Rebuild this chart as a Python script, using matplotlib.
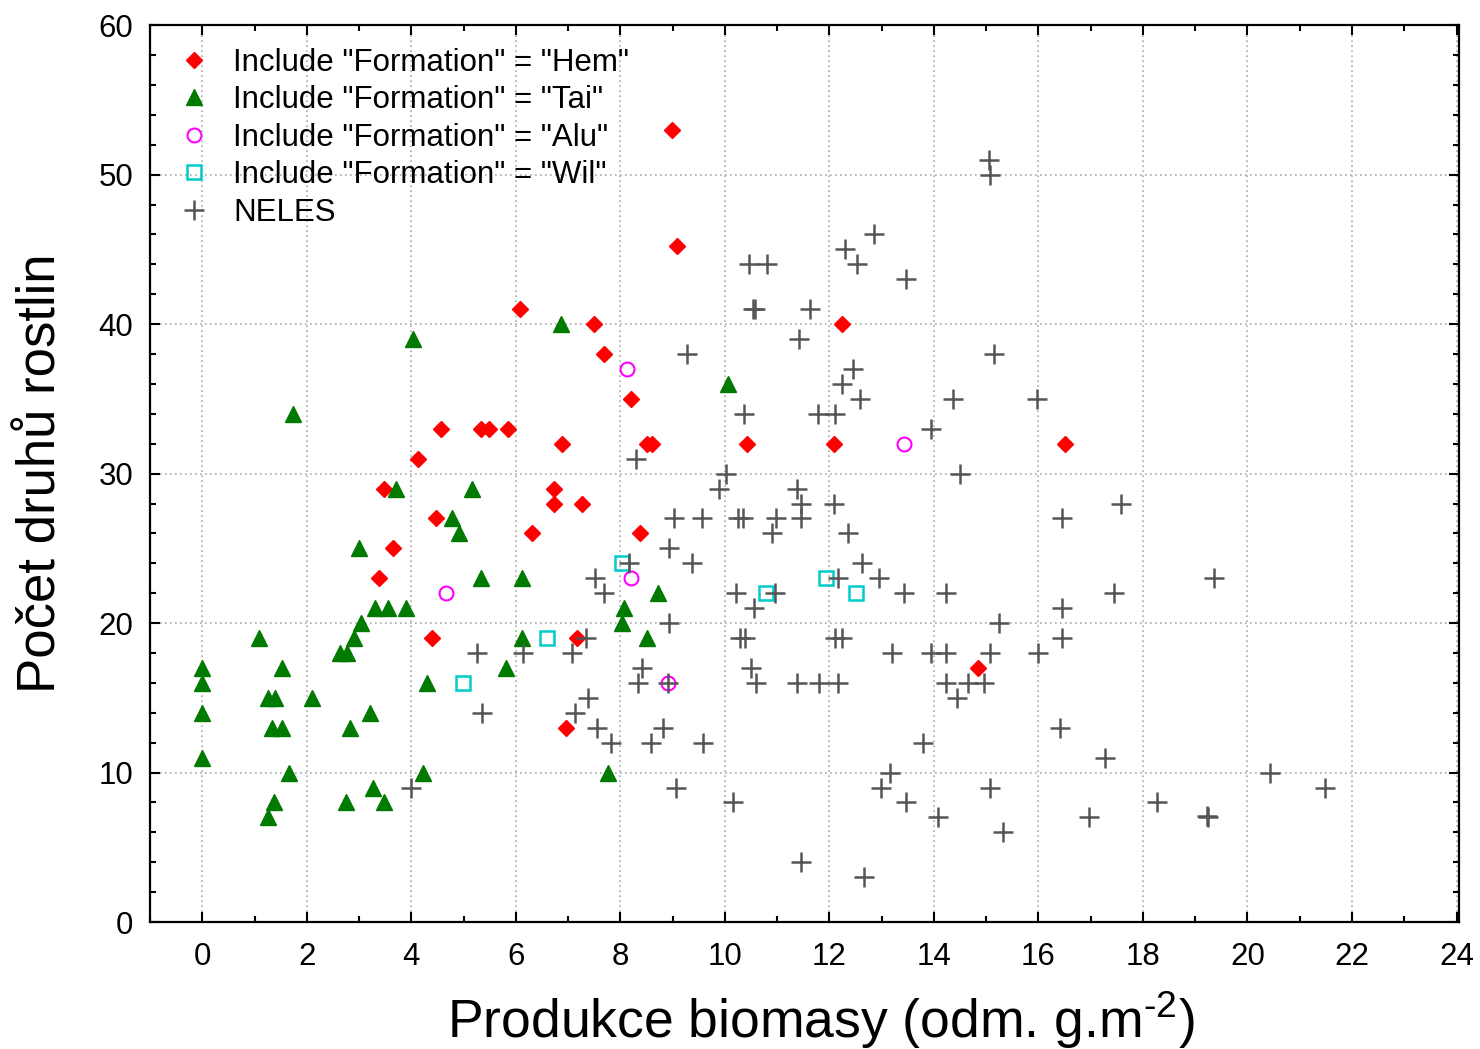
import matplotlib
matplotlib.use('Agg')
import matplotlib.pyplot as plt
from matplotlib.ticker import MultipleLocator

plt.rcParams['font.family'] = ['Liberation Sans', 'DejaVu Sans']
plt.rcParams['mathtext.fontset'] = 'custom'
plt.rcParams['mathtext.rm'] = 'Liberation Sans'

# Formation "Hem"
hem_x = [8.99, 9.09, 6.08, 7.49, 7.69, 8.2, 4.56, 5.34, 5.48, 5.85, 4.12, 6.88, 8.51, 8.61,
         10.43, 12.08, 16.5, 12.25, 3.47, 6.73, 6.73, 7.26, 4.47, 6.31, 8.38, 3.64, 3.39,
         4.39, 7.17, 6.96, 14.85]
hem_y = [53, 45.2, 41, 40, 38, 35, 33, 33, 33, 33, 31, 32, 32, 32,
         32, 32, 32, 40, 29, 29, 28, 28, 27, 26, 26, 25, 23,
         19, 19, 13, 17]

# Formation "Tai"
tai_x = [4.03, 1.74, 3.7, 5.16, 4.77, 4.91, 2.99, 5.33, 6.11, 3.3, 3.55, 3.9, 3.03, 1.09,
         6.11, 2.91, 2.63, 2.76, 0, 1.53, 0, 1.25, 1.4, 2.09, 0, 3.2, 1.34, 1.53, 2.82,
         0, 1.65, 3.26, 1.38, 2.74, 3.47, 1.25, 4.22, 4.29, 5.81, 8.72, 8.07, 8.03, 8.51,
         7.76, 6.86, 10.06]
tai_y = [39, 34, 29, 29, 27, 26, 25, 23, 23, 21, 21, 21, 20, 19,
         19, 19, 18, 18, 17, 17, 16, 15, 15, 15, 14, 14, 13, 13, 13,
         11, 10, 9, 8, 8, 8, 7, 10, 16, 17, 22, 21, 20, 19,
         10, 40, 36]

# Formation "Alu"
alu_x = [8.13, 13.42, 4.66, 8.2, 8.91]
alu_y = [37, 32, 22, 23, 16]

# Formation "Wil"
wil_x = [8.03, 6.59, 4.98, 10.79, 11.94, 12.5]
wil_y = [24, 19, 16, 22, 23, 22]

# NELES
neles_x = [12.86, 12.29, 12.52, 10.47, 10.81, 13.46, 10.54, 10.58, 11.63, 11.42, 9.28, 12.46,
           12.25, 12.59, 10.37, 11.79, 12.11, 13.94, 14.36, 15.97, 15.14, 14.49, 11.37, 11.46,
           12.08, 11.46, 12.36, 17.58, 16.45, 15.05, 15.07, 19.36, 17.44, 16.46, 16.46, 16.41,
           17.27, 16.96, 18.27, 19.24, 19.22, 20.43, 21.49,
           9.89, 10.25, 10.35, 10.98, 10.9, 12.63, 12.94, 12.16, 10.21, 10.96, 13.42, 14.24,
           10.55, 15.24, 10.29, 10.39, 12.1, 12.25, 13.2, 13.94, 14.24, 15.07, 15.99, 10.5,
           10.6, 11.38, 11.81, 12.16, 14.24, 14.66, 14.95, 14.45, 13.8, 13.15, 12.98, 15.07,
           9.58, 11.46, 12.67, 13.46, 14.07, 15.32,
           8.3, 10.02, 9.03, 9.56, 8.93, 9.37, 8.17, 7.51, 7.69, 8.93, 7.34, 5.25, 6.13, 7.07,
           8.41, 8.34, 8.91, 5.35, 7.38, 7.13, 7.55, 7.82, 8.82, 8.59, 4.0, 9.07, 10.16]
neles_y = [46, 45, 44, 44, 44, 43, 41, 41, 41, 39, 38, 37,
           36, 35, 34, 34, 34, 33, 35, 35, 38, 30, 29, 28,
           28, 27, 26, 28, 27, 51, 50, 23, 22, 21, 19, 13,
           11, 7, 8, 7, 7.1, 10, 9,
           29, 27, 27, 27, 26, 24, 23, 23, 22, 22, 22, 22,
           21, 20, 19, 19, 19, 19, 18, 18, 18, 18, 18, 17,
           16, 16, 16, 16, 16, 16, 16, 15, 12, 10, 9, 9,
           12, 4, 3, 8, 7, 6,
           31, 30, 27, 27, 25, 24, 24, 23, 22, 20, 19, 18, 18, 18,
           17, 16, 16, 14, 15, 14, 13, 12, 13, 12, 9, 9, 8]

fig = plt.figure(figsize=(14.8, 10.49), dpi=100)
ax = fig.add_axes([0.1014, 0.121, 0.8845, 0.855])

ax.plot(hem_x, hem_y, linestyle='none', marker='D', markersize=8.5, color='#FF0000',
        markeredgecolor='#FF0000', label='Include "Formation" = "Hem"', zorder=3)
ax.plot(tai_x, tai_y, linestyle='none', marker='^', markersize=11.5, color='#007A00',
        markeredgecolor='#007A00', label='Include "Formation" = "Tai"', zorder=3)
ax.plot(alu_x, alu_y, linestyle='none', marker='o', markersize=10, markerfacecolor='none',
        markeredgecolor='#FF00FF', markeredgewidth=1.5, label='Include "Formation" = "Alu"', zorder=3)
ax.plot(wil_x, wil_y, linestyle='none', marker='s', markersize=10, markerfacecolor='none',
        markeredgecolor='#00CCCC', markeredgewidth=1.8, label='Include "Formation" = "Wil"', zorder=3)
ax.plot(neles_x, neles_y, linestyle='none', marker='+', markersize=14, markeredgewidth=1.8,
        color='#555555', label='NELES', zorder=4)

ax.set_xlim(-1, 24.05)
ax.set_ylim(0, 60)
ax.xaxis.set_major_locator(MultipleLocator(2))
ax.xaxis.set_minor_locator(MultipleLocator(1))
ax.yaxis.set_major_locator(MultipleLocator(10))
ax.yaxis.set_minor_locator(MultipleLocator(2))

ax.tick_params(which='both', direction='in', top=True, right=True, labelsize=22.5,
               width=1.5, color='black')
ax.tick_params(which='major', length=7)
ax.tick_params(which='minor', length=4)
ax.tick_params(axis='x', pad=14)
ax.tick_params(axis='y', pad=12)

ax.grid(True, which='major', linestyle=(0, (1, 2)), color='#aaaaaa', linewidth=1.2)
ax.set_axisbelow(True)
for s in ax.spines.values():
    s.set_linewidth(1.6)

ax.set_xlabel(r'Produkce biomasy (odm. g.m$^{\text{-2}}$)', fontsize=38.5, labelpad=12)
ax.xaxis.set_label_coords(0.512, -0.075)
ax.set_ylabel('Počet druhů rostlin', fontsize=38, labelpad=23)

ax.legend(loc='upper left', bbox_to_anchor=(0.0, 1.006), frameon=False, fontsize=22.5,
          handletextpad=0.75, labelspacing=0.24, borderaxespad=0.5, handlelength=1.0,
          numpoints=1)

fig.savefig('out.png', dpi=100)
